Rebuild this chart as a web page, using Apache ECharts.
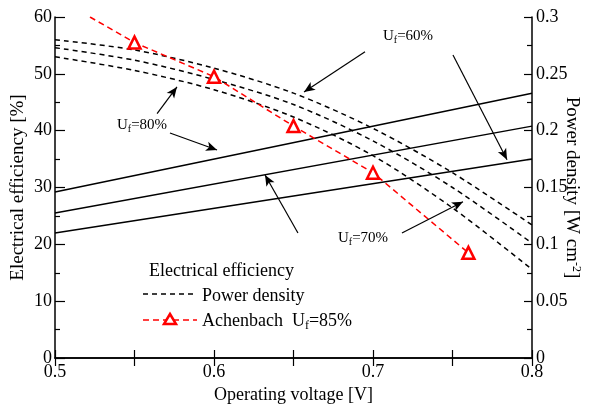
<!DOCTYPE html>
<html>
<head>
<meta charset="utf-8">
<script src="https://cdn.jsdelivr.net/npm/echarts@6/dist/echarts.min.js"></script>
<style>
  html, body { margin: 0; padding: 0; background: #fff; }
  #chart { width: 590px; height: 405px; }
</style>
</head>
<body>
<div id="chart"></div>
<script>
// efficiency lines (left axis, %)
const effVoltage = [0.5, 0.8];
const eff60 = [22.0, 35.0];
const eff70 = [25.5, 40.8];
const eff80 = [29.2, 46.6];

// power density curves (right axis, W cm-2)
const pdVoltage = [0.5, 0.55, 0.6, 0.65, 0.7, 0.75, 0.8];
const pd60 = [0.280, 0.271, 0.255, 0.233, 0.202, 0.163, 0.117];
const pd70 = [0.273, 0.262, 0.245, 0.223, 0.191, 0.150, 0.101];
const pd80 = [0.265, 0.253, 0.236, 0.212, 0.178, 0.132, 0.078];

// Achenbach Uf=85%
const achVoltage = [0.522, 0.55, 0.6, 0.65, 0.7, 0.76];
const achPd = [0.300, 0.2775, 0.2475, 0.204, 0.163, 0.0925];

// annotation arrows [from, to] in (V, %)
const arrows = [
    [[0.695, 53.9], [0.6566, 46.8]],
    [[0.7503, 53.3], [0.7843, 34.9]],
    [[0.5642, 43.0], [0.5767, 47.7]],
    [[0.5723, 39.6], [0.6019, 36.6]],
    [[0.6528, 22.0], [0.6321, 32.2]],
    [[0.7182, 22.0], [0.7566, 27.5]]
];

const FONT = 'Liberation Serif';
const pair = (xs, ys) => xs.map((x, i) => [x, ys[i]]);

const chart = echarts.init(document.getElementById('chart'));

const solid = (name, vals) => ({
    name: name,
    type: 'line',
    yAxisIndex: 0,
    data: pair(effVoltage, vals),
    symbol: 'none',
    lineStyle: { color: '#000', width: 1.5, type: 'solid' }
});

const dashed = (name, vals) => ({
    name: name,
    type: 'line',
    yAxisIndex: 1,
    data: pair(pdVoltage, vals),
    symbol: 'none',
    smooth: 0.3,
    lineStyle: { color: '#000', width: 1.5, type: [5, 4] }
});

const sub = (n) => '{u|U}{s|f}{u|=' + n + '%}';
const richText = {
    u: { fontFamily: FONT, fontSize: 15, color: '#333' },
    s: { fontFamily: FONT, fontSize: 10, color: '#333', padding: [8, 0, 0, 0] }
};

const achData = pair(achVoltage, achPd).map((p, i) => i === 0 ? { value: p, symbol: 'none' } : p);

const tickStyle = { color: '#000', width: 1.2 };

const option = {
    animation: false,
    grid: { left: 55, right: 58, top: 17, bottom: 47, outerBoundsMode: 'none' },
    xAxis: [
        {
            type: 'value',
            min: 0.5, max: 0.8, interval: 0.1,
            name: 'Operating voltage [V]',
            nameLocation: 'middle',
            nameGap: 28,
            nameMoveOverlap: false,
            nameTextStyle: { fontFamily: FONT, fontSize: 18, color: '#000' },
            axisLine: { lineStyle: { color: '#000', width: 1.5 } },
            axisTick: { inside: true, length: 8, lineStyle: tickStyle },
            minorTick: { show: true, splitNumber: 2, length: 8, lineStyle: tickStyle },
            axisLabel: { fontFamily: FONT, fontSize: 18, color: '#000', margin: 5 },
            splitLine: { show: false }
        },
        {
            type: 'value',
            position: 'top',
            min: 0.5, max: 0.8, interval: 0.1,
            axisLine: { lineStyle: { color: '#000', width: 1.5 } },
            axisTick: { inside: true, length: 8, lineStyle: tickStyle },
            minorTick: { show: true, splitNumber: 2, length: 8, lineStyle: tickStyle },
            axisLabel: { show: false },
            splitLine: { show: false }
        }
    ],
    yAxis: [
        {
            type: 'value',
            min: 0, max: 60, interval: 10,
            name: 'Electrical efficiency [%]',
            nameLocation: 'middle',
            nameGap: 27,
            nameMoveOverlap: false,
            nameTextStyle: { fontFamily: FONT, fontSize: 19, color: '#000' },
            axisLine: { show: true, lineStyle: { color: '#000', width: 1.5 } },
            axisTick: { inside: true, length: 10, lineStyle: tickStyle },
            minorTick: { show: true, splitNumber: 2, length: 5, lineStyle: tickStyle },
            axisLabel: { fontFamily: FONT, fontSize: 18, color: '#000', margin: 3 },
            splitLine: { show: false }
        },
        {
            type: 'value',
            position: 'right',
            min: 0, max: 0.3, interval: 0.05,
            name: '{a|Power density [W cm}{b|-2}{a|]}',
            nameLocation: 'middle',
            nameGap: 30,
            nameRotate: -90,
            nameMoveOverlap: false,
            nameTextStyle: {
                color: '#000',
                rich: {
                    a: { fontFamily: FONT, fontSize: 19, color: '#000' },
                    b: { fontFamily: FONT, fontSize: 12, color: '#000', padding: [0, 0, 8, 0] }
                }
            },
            axisLine: { show: true, lineStyle: { color: '#000', width: 1.5 } },
            axisTick: { inside: true, length: 8, lineStyle: tickStyle },
            minorTick: { show: true, splitNumber: 2, length: 5, lineStyle: tickStyle },
            axisLabel: { fontFamily: FONT, fontSize: 18, color: '#000', margin: 4 },
            splitLine: { show: false }
        }
    ],
    series: [
        Object.assign(solid('eff80', eff80), {
            markLine: {
                silent: true,
                symbol: ['none', 'arrow'],
                symbolSize: [7, 11],
                label: { show: false },
                lineStyle: { color: '#000', width: 1.2, type: 'solid' },
                data: arrows.map(a => [{ coord: a[0] }, { coord: a[1] }])
            }
        }),
        solid('eff70', eff70),
        solid('eff60', eff60),
        dashed('pd60', pd60),
        dashed('pd70', pd70),
        dashed('pd80', pd80),
        {
            name: 'Achenbach',
            type: 'line',
            yAxisIndex: 1,
            data: achData,
            symbol: 'triangle',
            symbolSize: 12,
            itemStyle: { color: '#fff', borderColor: '#ff0000', borderWidth: 2.5 },
            lineStyle: { color: '#ff0000', width: 1.5, type: [6, 4] },
            z: 3
        }
    ],
    graphic: [
        { type: 'text', left: 383, top: 29, style: { text: sub(60), rich: richText } },
        { type: 'text', left: 117, top: 118, style: { text: sub(80), rich: richText } },
        { type: 'text', left: 338, top: 231, style: { text: sub(70), rich: richText } },
        // legend
        { type: 'text', left: 149, top: 262, style: { text: 'Electrical efficiency', font: '18px "Liberation Serif"', fill: '#000' } },
        { type: 'line', shape: { x1: 143, y1: 294, x2: 197, y2: 294 }, style: { stroke: '#000', lineWidth: 1.5, lineDash: [5, 4] } },
        { type: 'text', left: 202, top: 287, style: { text: 'Power density', font: '18px "Liberation Serif"', fill: '#000' } },
        { type: 'line', shape: { x1: 143, y1: 320, x2: 197, y2: 320 }, style: { stroke: '#ff0000', lineWidth: 1.5, lineDash: [6, 4] } },
        { type: 'polygon', shape: { points: [[170, 314], [176, 324], [164, 324]] }, style: { fill: '#fff', stroke: '#ff0000', lineWidth: 2.5 } },
        {
            type: 'text', left: 202, top: 312,
            style: {
                text: '{a|Achenbach  U}{s|f}{a|=85%}',
                rich: {
                    a: { fontFamily: FONT, fontSize: 18, color: '#000' },
                    s: { fontFamily: FONT, fontSize: 12, color: '#000', padding: [9, 0, 0, 0] }
                }
            }
        }
    ]
};

chart.setOption(option);
</script>
</body>
</html>
